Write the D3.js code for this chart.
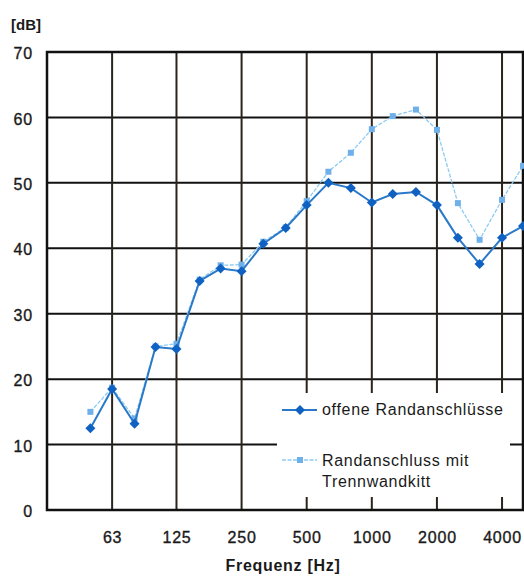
<!DOCTYPE html>
<html>
<head>
<meta charset="utf-8">
<script src="https://cdn.jsdelivr.net/npm/d3@7"></script>
<style>
  html, body { margin: 0; padding: 0; background: #fff; }
  svg { display: block; font-family: "Liberation Sans", Arial, sans-serif; }
</style>
</head>
<body>
<svg id="chart" width="524" height="577"></svg>
<script>
// Third-octave band centre frequencies (Hz)
const frequencies = [50, 63, 80, 100, 125, 160, 200, 250, 315, 400, 500, 630, 800, 1000, 1250, 1600, 2000, 2500, 3150, 4000, 5000];
// Sound insulation in dB, open edge joints
const offeneRandanschluesse = [12.5, 18.5, 13.2, 24.9, 24.6, 35.0, 36.9, 36.5, 40.7, 43.1, 46.6, 50.0, 49.2, 47.0, 48.3, 48.6, 46.6, 41.6, 37.6, 41.6, 43.4];
// Sound insulation in dB, edge joint sealed with partition-wall sealant
const mitTrennwandkitt = [15.0, 18.7, 14.0, 25.0, 25.4, 35.2, 37.4, 37.5, 41.0, 43.2, 47.2, 51.7, 54.6, 58.2, 60.2, 61.2, 58.1, 46.9, 41.3, 47.4, 52.6];
// Axis ticks
const xTicks = [63, 125, 250, 500, 1000, 2000, 4000];
const yTicks = [0, 10, 20, 30, 40, 50, 60, 70];
const seriesNames = ["offene Randanschlüsse", "Randanschluss mit", "Trennwandkitt"];

(function () {
const svg = d3.select("#chart");
const pLeft = 47, pRight = 523, pTop = 52, pBottom = 510;
const ink = "#1a1a1a";

const x = d3.scaleLog().base(2).domain([31.5, 5000]).range([pLeft, pRight]);
const y = d3.scaleLinear().domain([0, 70]).range([pBottom, pTop]);

const plot = svg.append("g");

// Grid lines
plot.append("g").selectAll("line").data(yTicks.slice(1, -1)).join("line")
  .attr("x1", pLeft).attr("x2", pRight)
  .attr("y1", d => y(d)).attr("y2", d => y(d))
  .attr("stroke", "#111").attr("stroke-width", 2);
plot.append("g").selectAll("line").data(xTicks).join("line")
  .attr("x1", d => x(d)).attr("x2", d => x(d))
  .attr("y1", pTop).attr("y2", pBottom)
  .attr("stroke", "#2a241c").attr("stroke-width", 2);

// Legend background (covers the grid)
const legend = svg.append("g");
legend.append("rect")
  .attr("x", 277).attr("y", 393).attr("width", 233).attr("height", 104)
  .attr("fill", "#fff");

// Plot frame
plot.append("rect")
  .attr("x", pLeft).attr("y", pTop)
  .attr("width", pRight - pLeft).attr("height", pBottom - pTop)
  .attr("fill", "none").attr("stroke", "#111").attr("stroke-width", 2.5);

// Axes (labels only)
function styleTicks(g) {
  g.select(".domain").remove();
  g.selectAll("text").attr("font-size", 16).attr("fill", ink)
    .attr("stroke", ink).attr("stroke-width", 0.35)
    .attr("letter-spacing", 0.8)
    .attr("font-family", "Liberation Sans, Arial, sans-serif").attr("dy", "0.35em");
}
const xAxis = d3.axisBottom(x).tickValues(xTicks).tickSize(0).tickPadding(0).tickFormat(d3.format("d"));
svg.append("g").attr("transform", `translate(0, ${pBottom + 27})`).call(xAxis).call(styleTicks);

const yAxis = d3.axisLeft(y).tickValues(yTicks).tickSize(0).tickPadding(0);
svg.append("g").attr("transform", `translate(33, 1)`).call(yAxis).call(styleTicks);

svg.append("text").attr("x", 11).attr("y", 30)
  .attr("font-size", 15).attr("font-weight", "bold").attr("fill", ink)
  .text("[dB]");
svg.append("text").attr("x", 283).attr("y", 571).attr("text-anchor", "middle")
  .attr("font-size", 16).attr("font-weight", "bold").attr("fill", ink)
  .attr("letter-spacing", 0.7)
  .text("Frequenz [Hz]");

// Series
const lightColor = "#8ccbf2", lightMarker = "#6fb0ea";
const darkColor = "#2a79c9", darkMarker = "#0f62c2";

svg.append("clipPath").attr("id", "plotclip")
  .append("rect").attr("x", pLeft).attr("y", pTop).attr("width", pRight - pLeft + 2).attr("height", pBottom - pTop);

const line = d3.line().x(d => x(d.f)).y(d => y(d.v));
const lightData = frequencies.map((f, i) => ({ f, v: mitTrennwandkitt[i] }));
const darkData = frequencies.map((f, i) => ({ f, v: offeneRandanschluesse[i] }));

const series = svg.append("g").attr("clip-path", "url(#plotclip)");

series.append("path").datum(lightData).attr("d", line)
  .attr("fill", "none").attr("stroke", lightColor).attr("stroke-width", 1.3)
  .attr("stroke-dasharray", "4,1.5");
series.append("g").selectAll("rect").data(lightData).join("rect")
  .attr("x", d => x(d.f) - 3).attr("y", d => y(d.v) - 3)
  .attr("width", 6).attr("height", 6).attr("fill", lightMarker);

series.append("path").datum(darkData).attr("d", line)
  .attr("fill", "none").attr("stroke", darkColor).attr("stroke-width", 2);
const diamond = d3.symbol().type(d3.symbolDiamond2).size(64);
series.append("g").selectAll("path").data(darkData).join("path")
  .attr("transform", d => `translate(${x(d.f)},${y(d.v)})`)
  .attr("d", diamond).attr("fill", darkMarker);

// Legend entries
function legendText(yPos, label) {
  legend.append("text").attr("x", 322).attr("y", yPos).attr("font-size", 16)
    .attr("letter-spacing", 0.7).attr("fill", ink)
    .text(label);
}
legend.append("line").attr("x1", 282).attr("x2", 317).attr("y1", 410).attr("y2", 410)
  .attr("stroke", darkColor).attr("stroke-width", 2);
legend.append("path").attr("transform", "translate(300,410)").attr("d", diamond).attr("fill", darkMarker);
legendText(415, seriesNames[0]);

legend.append("line").attr("x1", 282).attr("x2", 317).attr("y1", 460).attr("y2", 460)
  .attr("stroke", lightColor).attr("stroke-width", 1.3).attr("stroke-dasharray", "4,1.5");
legend.append("rect").attr("x", 297).attr("y", 457).attr("width", 6).attr("height", 6).attr("fill", lightMarker);
legendText(466, seriesNames[1]);
legendText(487, seriesNames[2]);
})();
</script>
</body>
</html>
